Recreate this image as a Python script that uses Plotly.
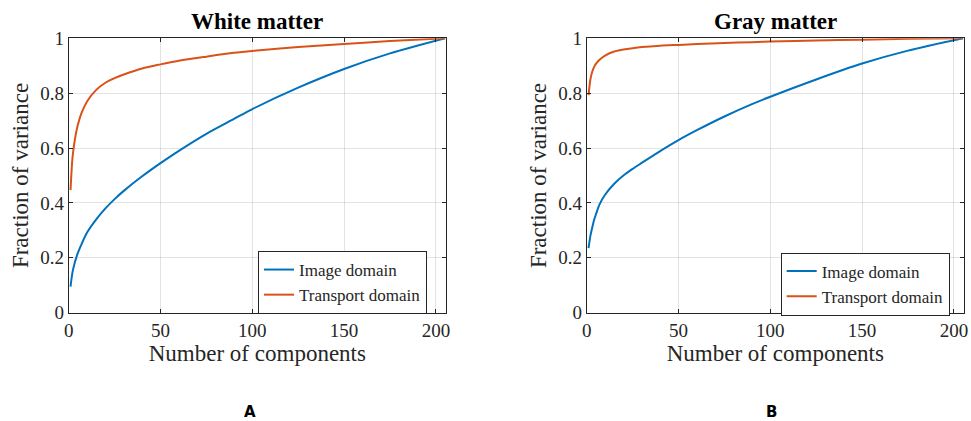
import plotly.graph_objects as go

# ---- data ----
components = [1, 2, 3, 4, 5, 7, 10, 15, 20, 25, 30, 40, 50, 60, 75, 90, 100, 125, 150, 175, 205]

white_image = [0.095, 0.145, 0.175, 0.198, 0.218, 0.25, 0.292, 0.34, 0.38, 0.414, 0.444, 0.497,
               0.545, 0.59, 0.652, 0.706, 0.742, 0.82, 0.888, 0.945, 1.0]
white_transport = [0.447, 0.56, 0.615, 0.655, 0.685, 0.728, 0.77, 0.812, 0.838, 0.855, 0.868, 0.89,
                   0.905, 0.918, 0.933, 0.947, 0.954, 0.968, 0.979, 0.99, 1.0]
gray_image = [0.235, 0.28, 0.31, 0.337, 0.358, 0.395, 0.43, 0.47, 0.5, 0.524, 0.546, 0.589, 0.629,
              0.665, 0.715, 0.76, 0.787, 0.85, 0.908, 0.955, 1.0]
gray_transport = [0.793, 0.85, 0.878, 0.895, 0.907, 0.922, 0.937, 0.952, 0.959, 0.964, 0.968, 0.973,
                  0.976, 0.979, 0.983, 0.986, 0.988, 0.992, 0.995, 0.998, 1.0]

panel_titles = ["White matter", "Gray matter"]
panel_letters = ["A", "B"]
series_names = ["Image domain", "Transport domain"]
x_ticks = [0, 50, 100, 150, 200]
y_ticks = [0, 0.2, 0.4, 0.6, 0.8, 1]
y_tick_text = ["0", "0.2", "0.4", "0.6", "0.8", "1"]

BLUE = "#0072BD"
ORANGE = "#D95319"
SERIF = "Liberation Serif"
TXT = "#262626"

W, H = 971, 421
fig = go.Figure()

panels = [
    ("x", "y", "legend", white_image, white_transport),
    ("x2", "y2", "legend2", gray_image, gray_transport),
]
for xa, ya, lg, img, trn in panels:
    fig.add_trace(go.Scatter(x=components, y=img, mode="lines", name=series_names[0],
                             line=dict(color=BLUE, width=2, shape="spline", smoothing=0.8),
                             xaxis=xa, yaxis=ya, legend=lg))
    fig.add_trace(go.Scatter(x=components, y=trn, mode="lines", name=series_names[1],
                             line=dict(color=ORANGE, width=2, shape="spline", smoothing=0.8),
                             xaxis=xa, yaxis=ya, legend=lg))

x_domains = [[68.7 / W, 446 / W], [586.7 / W, 964 / W]]
y_domain = [1 - 312.7 / H, 1 - 38.3 / H]

common_x = dict(range=[0, 205.5], tickvals=x_ticks, showgrid=True, automargin=False,
                gridcolor="rgba(38,38,38,0.13)", gridwidth=1,
                showline=True, linecolor=TXT, linewidth=1, mirror="ticks",
                ticks="inside", ticklen=4, tickcolor=TXT, zeroline=False,
                tickfont=dict(family=SERIF, size=19, color=TXT),
                title=dict(text="Number of components", standoff=5,
                           font=dict(family=SERIF, size=23, color=TXT)))
common_y = dict(range=[0, 1], tickvals=y_ticks, ticktext=y_tick_text, showgrid=True,
                automargin=False,
                gridcolor="rgba(38,38,38,0.13)", gridwidth=1,
                showline=True, linecolor=TXT, linewidth=1, mirror="ticks",
                ticks="inside", ticklen=4, tickcolor=TXT, zeroline=False,
                tickfont=dict(family=SERIF, size=19, color=TXT),
                title=dict(text="Fraction of variance", standoff=5,
                           font=dict(family=SERIF, size=23, color=TXT)))

fig.update_layout(
    width=W, height=H,
    font=dict(family=SERIF, color=TXT),
    margin=dict(l=0, r=0, t=0, b=0, autoexpand=False),
    paper_bgcolor="white", plot_bgcolor="white",
    xaxis=dict(domain=x_domains[0], anchor="y", **common_x),
    yaxis=dict(domain=y_domain, anchor="x", **common_y),
    xaxis2=dict(domain=x_domains[1], anchor="y2", **common_x),
    yaxis2=dict(domain=y_domain, anchor="x2", **common_y),
    legend=dict(x=258 / W, y=1 - 251 / H, xanchor="left", yanchor="top",
                bgcolor="white", bordercolor=TXT, borderwidth=1,
                font=dict(family=SERIF, size=17, color=TXT), tracegroupgap=0),
    legend2=dict(x=780.7 / W, y=1 - 252.5 / H, xanchor="left", yanchor="top",
                 bgcolor="white", bordercolor=TXT, borderwidth=1,
                 font=dict(family=SERIF, size=17, color=TXT), tracegroupgap=0),
    showlegend=True,
)

centers = [(x_domains[0][0] + x_domains[0][1]) / 2, (x_domains[1][0] + x_domains[1][1]) / 2]
for i in range(2):
    fig.add_annotation(text="<b>%s</b>" % panel_titles[i], x=centers[i], y=1 - 22 / H,
                       xref="paper", yref="paper", showarrow=False,
                       xanchor="center", yanchor="middle",
                       font=dict(family=SERIF, size=23, color="black"))
fig.add_annotation(text="<b>%s</b>" % panel_letters[0], x=250 / W, y=1 - 412 / H,
                   xref="paper", yref="paper", showarrow=False,
                   xanchor="center", yanchor="middle",
                   font=dict(family="DejaVu Sans", size=15, color="black"))
fig.add_annotation(text="<b>%s</b>" % panel_letters[1], x=771 / W, y=1 - 412 / H,
                   xref="paper", yref="paper", showarrow=False,
                   xanchor="center", yanchor="middle",
                   font=dict(family="DejaVu Sans", size=15, color="black"))

fig.write_html("out.html")
